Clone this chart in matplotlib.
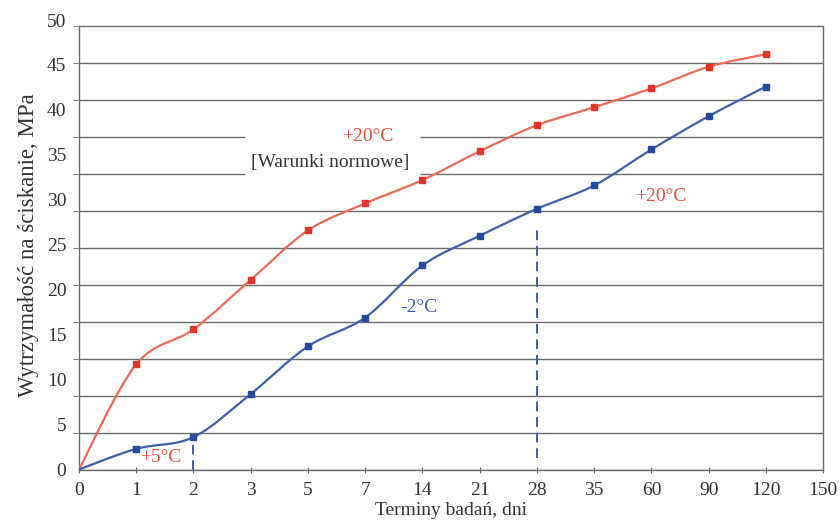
import numpy as np
import matplotlib.pyplot as plt
from matplotlib.path import Path
from matplotlib.patches import PathPatch

plt.rcParams['font.family'] = ['Liberation Serif', 'DejaVu Serif']

# test ages (days), shown as equally spaced categories
days = ['0', '1', '2', '3', '5', '7', '14', '21', '28', '35', '60', '90', '120', '150']

# compressive strength, MPa
red_vals = [0, 11.7, 15.6, 21.1, 26.6, 29.6, 32.2, 35.4, 38.3, 40.3, 42.4, 44.8, 46.2]
blue_vals = [0, 2.3, 3.6, 8.4, 13.7, 16.9, 22.7, 26.0, 29.0, 31.6, 35.6, 39.3, 42.6]

yticks = [0, 5, 10, 15, 20, 25, 30, 35, 40, 45, 50]

RED_LINE = '#ec6a58'
RED_MK = '#e5332a'
BLUE_LINE = '#3d5fae'
BLUE_MK = '#234a9e'
GRID = '#6b6b6b'


def smooth_path(xs, ys):
    # Catmull-Rom style cubic bezier through the points (like Excel smoothed lines)
    p = np.column_stack([xs, ys]).astype(float)
    verts = [p[0]]
    codes = [Path.MOVETO]
    n = len(p)
    for i in range(n - 1):
        p0 = p[i - 1] if i > 0 else p[i]
        p1 = p[i]
        p2 = p[i + 1]
        p3 = p[i + 2] if i + 2 < n else p[i + 1]
        c1 = p1 + (p2 - p0) / 6.0
        c2 = p2 - (p3 - p1) / 6.0
        verts += [c1, c2, p2]
        codes += [Path.CURVE4] * 3
    return Path(verts, codes)


fig = plt.figure(figsize=(8.4, 5.31), dpi=100)
ax = fig.add_axes([0.094, 0.1158, 0.886, 0.8465])

xpos = np.arange(len(red_vals))

# horizontal grid (12 equal bands, as in the original)
top = 49.33
grid_y = np.linspace(0, top, 13)
for k, gy in enumerate(grid_y):
    if k in (8, 9):
        ax.hlines(gy, 0, 2.9, color=GRID, lw=1.0, zorder=1)
        ax.hlines(gy, 5.96, 13, color=GRID, lw=1.0, zorder=1)
    else:
        ax.hlines(gy, 0, 13, color=GRID, lw=1.0, zorder=1)

ax.add_patch(PathPatch(smooth_path(xpos, red_vals), fill=False, ec=RED_LINE, lw=1.6, zorder=3))
ax.add_patch(PathPatch(smooth_path(xpos, blue_vals), fill=False, ec=BLUE_LINE, lw=1.6, zorder=3))
ax.plot(xpos[1:], red_vals[1:], ls='none', marker='s', ms=5, color=RED_MK, zorder=4)
ax.plot(xpos[1:], blue_vals[1:], ls='none', marker='s', ms=5, color=BLUE_MK, zorder=4)

# dashed markers for change of curing temperature
ax.vlines(2, 0, blue_vals[2], color=BLUE_LINE, lw=1.4, ls=(0, (5, 3)), zorder=2)
ax.vlines(8, 1.3, 26.9, color=BLUE_LINE, lw=1.4, ls=(0, (5, 3)), zorder=2)

ax.text(5.05, 37.0, '+20°C', color='#e8503a', fontsize=14, ha='center', va='center')
ax.text(4.39, 34.1, '[Warunki normowe]', color='#333333', fontsize=14, ha='center', va='center')
ax.text(1.42, 1.3, '+5°C', color='#e8503a', fontsize=14, ha='center', va='center')
ax.text(5.93, 18.0, '-2°C', color='#3d5fae', fontsize=14, ha='center', va='center')
ax.text(10.16, 30.4, '+20°C', color='#e8503a', fontsize=14, ha='center', va='center')

ax.set_xlim(0, 13)
ax.set_ylim(0, 50)
ax.set_xticks(np.arange(len(days)))
ax.set_xticklabels(days, fontsize=14, color='#333333')
ax.set_yticks(yticks)
ax.set_yticklabels([str(v) for v in yticks], fontsize=14, color='#333333')
ax.set_yticks(grid_y, minor=True)
ax.tick_params(axis='y', which='major', length=0, pad=9)
ax.tick_params(axis='y', which='minor', length=4, direction='out', color=GRID)
ax.tick_params(axis='x', length=4, direction='inout', color=GRID, pad=7)

ax.spines['top'].set_visible(False)
for s in ('left', 'right', 'bottom'):
    ax.spines[s].set_color(GRID)
    ax.spines[s].set_linewidth(1.0)
ax.spines['left'].set_bounds(0, top)
ax.spines['right'].set_bounds(0, top)

ax.set_xlabel('Terminy badań, dni', fontsize=14, color='#333333', labelpad=2)
ax.set_ylabel('Wytrzymałość na ściskanie, MPa', fontsize=16.5, color='#333333', labelpad=6)

fig.savefig('out.png', dpi=100, facecolor='white')
